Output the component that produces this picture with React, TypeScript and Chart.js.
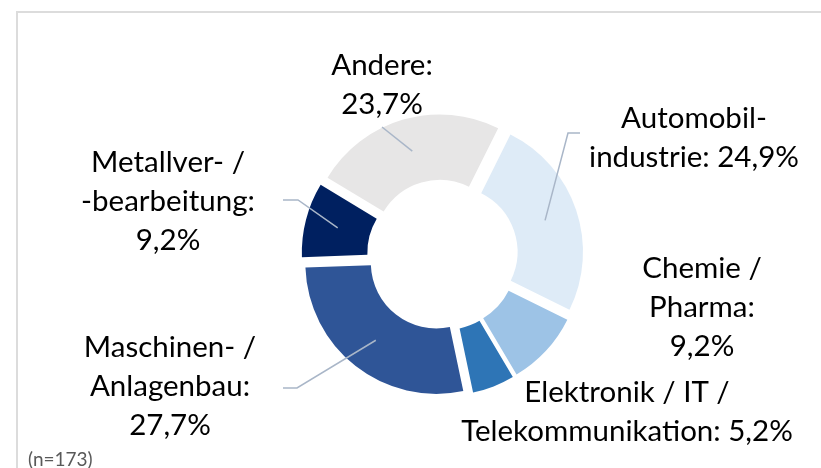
import React, { useEffect, useRef } from "react";
import { Chart, registerables } from "chart.js";

Chart.register(...registerables);

// ---- data ----
const categories = [
  "Automobilindustrie",
  "Chemie / Pharma",
  "Elektronik / IT / Telekommunikation",
  "Maschinen- / Anlagenbau",
  "Metallver- / -bearbeitung",
  "Andere",
];
const shares = [24.9, 9.2, 5.2, 27.7, 9.2, 23.7];
// label text lines, "{v}" is replaced by the formatted share
const labelTemplates = [
  ["Automobil-", "industrie: {v}"],
  ["Chemie /", "Pharma:", "{v}"],
  ["Elektronik / IT /", "Telekommunikation: {v}"],
  ["Maschinen- /", "Anlagenbau:", "{v}"],
  ["Metallver- /", "-bearbeitung:", "{v}"],
  ["Andere:", "{v}"],
];
const sampleNote = "(n=173)";

// ---- styles / layout ----
const colors = ["#DEEBF7", "#9DC3E6", "#2E75B6", "#2F5597", "#002060", "#E7E6E6"];
const FONT = "Lato, 'Open Sans', sans-serif";
const FONT_SIZE = 29.5;
const LINE_H = 39;
const EXPLODE = 10;
// label anchor: center x and first baseline y
const labelPos = [
  { x: 694, y: 128 },
  { x: 702, y: 278 },
  { x: 627, y: 402 },
  { x: 170, y: 357 },
  { x: 168, y: 172 },
  { x: 382, y: 75 },
];
// leader line start points (null = no leader)
const leaderStart: (number[][] | null)[] = [
  [[580, 133], [568, 133]],
  null,
  null,
  [[283, 388], [297, 388]],
  [[283, 200], [298, 200]],
  [[382, 127]],
];

const fmt = (v: number) => v.toFixed(1).replace(".", ",") + "%";

const explodePlugin = {
  id: "explodeSlices",
  afterDatasetsUpdate(chart: any) {
    const meta = chart.getDatasetMeta(0);
    meta.data.forEach((arc: any) => {
      const mid = (arc.startAngle + arc.endAngle) / 2;
      arc.x = arc.x + Math.cos(mid) * EXPLODE;
      arc.y = arc.y + Math.sin(mid) * EXPLODE;
    });
  },
};

const labelPlugin = {
  id: "outerLabels",
  beforeDraw(chart: any) {
    const ctx = chart.ctx;
    ctx.save();
    ctx.fillStyle = "#fff";
    ctx.fillRect(0, 0, chart.width, chart.height);
    ctx.fillStyle = "#DCDCDC";
    ctx.fillRect(16, 11, chart.width - 16, 2);
    ctx.fillRect(16, 11, 2, chart.height - 11);
    ctx.restore();
  },
  afterDraw(chart: any) {
    const ctx = chart.ctx;
    const meta = chart.getDatasetMeta(0);
    ctx.save();
    // leader lines
    ctx.strokeStyle = "#A9B6C8";
    ctx.lineWidth = 1.5;
    meta.data.forEach((arc: any, i: number) => {
      const pts = leaderStart[i];
      if (!pts) return;
      const mid = (arc.startAngle + arc.endAngle) / 2;
      const r = (arc.innerRadius + arc.outerRadius) / 2;
      const ex = arc.x + Math.cos(mid) * r;
      const ey = arc.y + Math.sin(mid) * r;
      ctx.beginPath();
      ctx.moveTo(pts[0][0], pts[0][1]);
      for (let k = 1; k < pts.length; k++) ctx.lineTo(pts[k][0], pts[k][1]);
      ctx.lineTo(ex, ey);
      ctx.stroke();
    });
    // labels
    ctx.fillStyle = "#000";
    ctx.font = `${FONT_SIZE}px ${FONT}`;
    ctx.textAlign = "center";
    ctx.textBaseline = "alphabetic";
    labelTemplates.forEach((lines, i) => {
      const p = labelPos[i];
      lines.forEach((ln, k) => {
        ctx.fillText(ln.replace("{v}", fmt(shares[i])), p.x, p.y + k * LINE_H);
      });
    });
    // note
    ctx.fillStyle = "#595959";
    ctx.font = `19px ${FONT}`;
    ctx.textAlign = "left";
    ctx.fillText(sampleNote, 28, 466);
    ctx.restore();
  },
};

export default function App() {
  const ref = useRef<HTMLCanvasElement | null>(null);
  useEffect(() => {
    if (!ref.current) return;
    const chart = new Chart(ref.current, {
      type: "doughnut",
      data: {
        labels: categories,
        datasets: [
          {
            data: shares,
            backgroundColor: colors,
            borderWidth: 0,
            hoverOffset: 0,
          },
        ],
      },
      options: {
        animation: false,
        responsive: false,
        events: [],
        rotation: 26.5,
        cutout: "50%",
        radius: 131,
        layout: { padding: { left: 64, top: 42, right: 0, bottom: 0 } },
        plugins: { legend: { display: false }, tooltip: { enabled: false } },
      } as any,
      plugins: [explodePlugin, labelPlugin],
    });
    return () => chart.destroy();
  }, []);
  return (
    <div style={{ position: "fixed", left: 0, top: 0, width: 821, height: 468, background: "#fff" }}>
      <canvas ref={ref} width={821} height={468} style={{ display: "block" }} />
    </div>
  );
}
